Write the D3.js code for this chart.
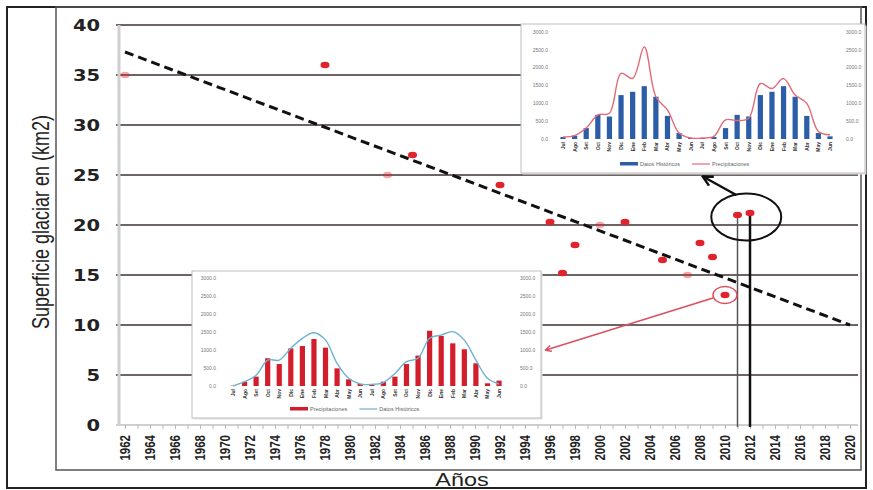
<!DOCTYPE html>
<html><head><meta charset="utf-8">
<script src="https://cdn.jsdelivr.net/npm/d3@7"></script>
<style>html,body{margin:0;padding:0;background:#fff;}svg{display:block;}</style>
</head><body>
<svg id="chart" width="873" height="490"></svg>
<script>
// ---- main chart data ----
const obsYears = [1962,1978,1983,1985,1992,1996,1997,1998,2000,2002,2005,2007,2008,2009,2010,2011,2012];
const obsArea  = [35,36,25,27,24,20.3,15.2,18,20,20.3,16.5,15,18.2,16.8,13,21,21.2];
const faintYears = [1962,1983,2000,2007];
const trendYears = [1962,2020];
const trendArea  = [37.3,10];
const yTicks = [0,5,10,15,20,25,30,35,40];
const xTickLabels = ["1962","1964","1966","1968","1970","1972","1974","1976","1978","1980","1982","1984","1986","1988","1990","1992","1994","1996","1998","2000","2002","2004","2006","2008","2010","2012","2014","2016","2018","2020"];
const markedYears = [2011,2012];
const yTitle = "Superficie glaciar en (km2)";
const xTitle = "Años";

// ---- inset data ----
const months = ["Jul","Ago","Set","Oct","Nov","Dic","Ene","Feb","Mar","Abr","May","Jun","Jul","Ago","Set","Oct","Nov","Dic","Ene","Feb","Mar","Abr","May","Jun"];
const insetTickValues = [0,500,1000,1500,2000,2500,3000];
const insetTickLabels = ["0.0","500.0","1000.0","1500.0","2000.0","2500.0","3000.0"];
const topHist   = [56,93,306,676,630,1231,1324,1481,1185,648,167,28,28,56,306,676,630,1231,1324,1481,1185,648,167,74];
const topPrecip = [56,93,306,676,722,1840,1700,2578,1185,815,167,28,28,74,537,518,583,1556,1417,1694,1231,1000,213,120];
const botPrecip = [10,120,260,770,610,1045,1110,1305,1065,490,185,55,45,120,260,610,845,1535,1390,1185,1020,630,75,150];
const botHist   = [0,120,300,720,720,1050,1325,1480,1275,630,215,55,45,95,350,675,770,1325,1415,1510,1275,720,215,55];
const legendHist = "Datos Históricos";
const legendPrecip = "Precipitaciones";

const svg = d3.select("#chart");
const x = d3.scaleLinear().domain([1962,2020]).range([125,850]);
const y = d3.scaleLinear().domain([0,40]).range([425,25]);

// frames
svg.append("rect").attr("x",7).attr("y",7).attr("width",859).attr("height",481)
  .attr("fill","none").attr("stroke","#222").attr("stroke-width",2);
svg.append("rect").attr("x",56).attr("y",7).attr("width",805).attr("height",463)
  .attr("fill","none").attr("stroke","#555").attr("stroke-width",1.5);

// gridlines
svg.append("g").selectAll("line").data(yTicks.filter(d=>d>0)).join("line")
  .attr("x1",116).attr("x2",858).attr("y1",d=>y(d)).attr("y2",d=>y(d))
  .attr("stroke","#6f6464").attr("stroke-width",2);

// y axis line
svg.append("line").attr("x1",119).attr("x2",119).attr("y1",y(40)).attr("y2",y(0))
  .attr("stroke","#cfcfcf").attr("stroke-width",3);

// x axis with yearly minor ticks
const xAxis = d3.axisBottom(x).ticks(58).tickSize(4).tickFormat("");
const gx = svg.append("g").attr("transform",`translate(0,${y(0)})`).call(xAxis);
gx.select(".domain").attr("stroke","#cfcfcf").attr("stroke-width",2).attr("d","M116,0H858");
gx.selectAll(".tick line").attr("stroke","#b8b8b8");

// y tick labels
svg.append("g").selectAll("text").data(yTicks).join("text")
  .attr("transform",d=>`translate(100,${y(d)+5.5}) scale(1.3,1)`)
  .attr("text-anchor","end").attr("font-family","DejaVu Sans, sans-serif")
  .attr("font-weight","bold").attr("font-size",15).attr("fill","#222").text(d=>d);

// x tick labels
svg.append("g").selectAll("text").data(xTickLabels).join("text")
  .attr("transform",d=>`translate(${x(+d)+5},435) scale(1.35,1) rotate(-90)`)
  .attr("text-anchor","end").attr("font-family","Liberation Sans, Arial, sans-serif")
  .attr("font-weight","bold").attr("font-size",11.5).attr("fill","#222").text(d=>d);

// axis titles
svg.append("text").attr("transform",`translate(49,222) scale(1.3,1) rotate(-90)`)
  .attr("text-anchor","middle").attr("font-family","Liberation Sans, Arial, sans-serif")
  .attr("font-size",18).attr("fill","#222").text(yTitle);
svg.append("text").attr("transform",`translate(462,486) scale(1.3,1)`)
  .attr("text-anchor","middle").attr("font-family","Liberation Sans, Arial, sans-serif")
  .attr("font-size",18).attr("fill","#222").text(xTitle);

// trend line
svg.append("path").datum(trendYears.map((d,i)=>[d,trendArea[i]]))
  .attr("d",d3.line().x(d=>x(d[0])).y(d=>y(d[1])))
  .attr("fill","none").attr("stroke","#111").attr("stroke-width",3).attr("stroke-dasharray","9,5");

// vertical marker lines for 2011, 2012
markedYears.forEach((yr,i)=>{
  const v = obsArea[obsYears.indexOf(yr)];
  svg.append("line").attr("x1",x(yr)).attr("x2",x(yr)).attr("y1",y(v)).attr("y2",y(0)+2)
    .attr("stroke",i===0?"#555":"#111").attr("stroke-width",i===0?1.5:2.5);
});

// points
svg.append("g").selectAll("ellipse").data(obsYears.map((d,i)=>({yr:d,v:obsArea[i]}))).join("ellipse")
  .attr("cx",d=>x(d.yr)).attr("cy",d=>y(d.v)).attr("rx",4.5).attr("ry",3.3)
  .attr("fill","#e0232c").attr("opacity",d=>faintYears.includes(d.yr)?0.4:1);

// defs for arrows
const defs = svg.append("defs");
function marker(id,color){
  defs.append("marker").attr("id",id).attr("viewBox","0 0 10 10").attr("refX",8).attr("refY",5)
    .attr("markerWidth",5).attr("markerHeight",5).attr("orient","auto")
    .append("path").attr("d","M1,1L9,5L1,9").attr("fill","none").attr("stroke",color)
    .attr("stroke-width",2).attr("stroke-linejoin","miter");
}
marker("arrBlack","#111"); marker("arrPink","#d9505e");

// insets
function drawInset(box, plot, barVals, lineVals, barColor, lineColor, legendOrder){
  const g = svg.append("g");
  g.append("rect").attr("x",box.x+1.5).attr("y",box.y+1.5).attr("width",box.w).attr("height",box.h).attr("fill","#e4e4e4");
  g.append("rect").attr("x",box.x).attr("y",box.y).attr("width",box.w).attr("height",box.h)
    .attr("fill","#fff").attr("stroke","#bdbdbd").attr("stroke-width",1);
  const xb = d3.scaleBand().domain(d3.range(months.length)).range([plot.x0,plot.x1]).padding(0.55);
  const yb = d3.scaleLinear().domain([0,3000]).range([plot.base,plot.top]);
  g.append("g").selectAll("text").data(insetTickValues).join("text")
    .attr("x",plot.lx).attr("y",d=>yb(d)+1.8).attr("text-anchor","end")
    .attr("font-family","Liberation Sans, Arial, sans-serif").attr("font-size",5).attr("fill","#777")
    .text((d,i)=>insetTickLabels[i]);
  g.append("g").selectAll("text").data(insetTickValues).join("text")
    .attr("x",plot.rx).attr("y",d=>yb(d)+1.8).attr("text-anchor","start")
    .attr("font-family","Liberation Sans, Arial, sans-serif").attr("font-size",5).attr("fill","#777")
    .text((d,i)=>insetTickLabels[i]);
  g.append("g").selectAll("rect").data(barVals).join("rect")
    .attr("x",(d,i)=>xb(i)).attr("width",xb.bandwidth()).attr("y",d=>yb(d)).attr("height",d=>yb(0)-yb(d))
    .attr("fill",barColor);
  g.append("path").datum(lineVals)
    .attr("d",d3.line().x((d,i)=>xb(i)+xb.bandwidth()/2).y(d=>yb(d)).curve(d3.curveCatmullRom))
    .attr("fill","none").attr("stroke",lineColor).attr("stroke-width",1.4);
  g.append("g").selectAll("text").data(months).join("text")
    .attr("transform",(d,i)=>`translate(${xb(i)+xb.bandwidth()/2+2},${plot.base+3}) rotate(-90)`)
    .attr("text-anchor","end").attr("font-family","Liberation Sans, Arial, sans-serif")
    .attr("font-weight","bold").attr("font-size",5).attr("fill","#333").text(d=>d);
  // legend
  let lx = plot.legX;
  legendOrder.forEach(item=>{
    if(item.type==="bar"){
      g.append("rect").attr("x",lx).attr("y",plot.legY-2).attr("width",18).attr("height",3.5).attr("fill",item.color);
    } else {
      g.append("line").attr("x1",lx).attr("x2",lx+18).attr("y1",plot.legY).attr("y2",plot.legY)
        .attr("stroke",item.color).attr("stroke-width",1.2);
    }
    const t = g.append("text").attr("x",lx+20).attr("y",plot.legY+2).attr("font-family","Liberation Sans, Arial, sans-serif")
      .attr("font-size",5.5).attr("fill","#666").text(item.label);
    lx += 20 + t.node().getComputedTextLength() + 12;
  });
}

drawInset({x:521,y:24,w:344,h:149},
  {x0:554,x1:839,base:139,top:32,lx:548,rx:846,legX:620,legY:164},
  topHist, topPrecip, "#2b5ea7", "#e46a77",
  [{type:"bar",color:"#2b5ea7",label:legendHist},{type:"line",color:"#e46a77",label:legendPrecip}]);

drawInset({x:192,y:271,w:349,h:147},
  {x0:224,x1:508,base:386,top:278,lx:216,rx:520,legX:290,legY:409},
  botPrecip, botHist, "#d21d2b", "#6cb2d2",
  [{type:"bar",color:"#d21d2b",label:legendPrecip},{type:"line",color:"#6cb2d2",label:legendHist}]);

// annotations
const cx1 = x(2011.7), cy1 = y(20.8);
svg.append("ellipse").attr("cx",cx1).attr("cy",cy1).attr("rx",35).attr("ry",23.5)
  .attr("fill","none").attr("stroke","#111").attr("stroke-width",2);
svg.append("line").attr("x1",cx1-10).attr("y1",cy1-22).attr("x2",x(2008.3)).attr("y2",177)
  .attr("stroke","#111").attr("stroke-width",2.5).attr("marker-end","url(#arrBlack)");

const cx2 = x(2010), cy2 = y(13);
svg.append("ellipse").attr("cx",cx2).attr("cy",cy2).attr("rx",12).attr("ry",8.5)
  .attr("fill","none").attr("stroke","#d9505e").attr("stroke-width",1.5);
svg.append("line").attr("x1",cx2-12).attr("y1",cy2+3).attr("x2",546).attr("y2",y(7.5))
  .attr("stroke","#d9505e").attr("stroke-width",1.5).attr("marker-end","url(#arrPink)");
</script>
</body></html>
